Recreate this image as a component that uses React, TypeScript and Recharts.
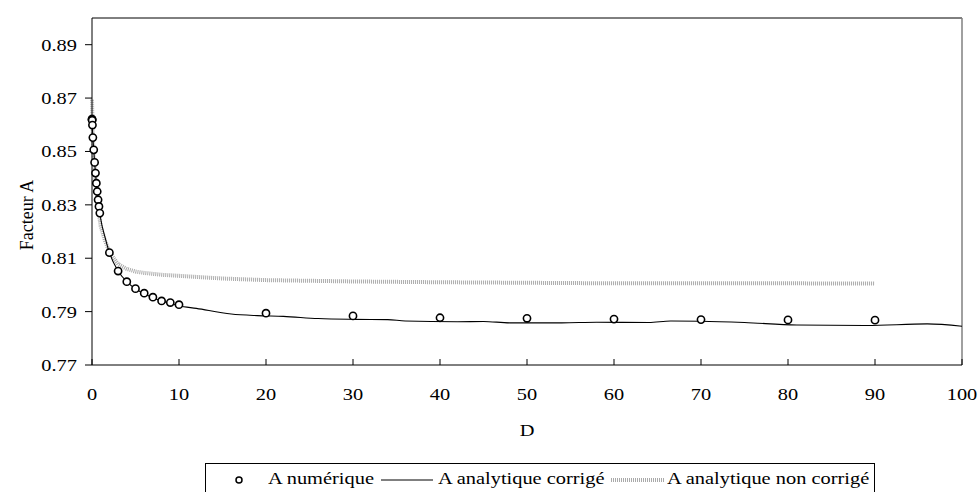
import React from 'react';
import { ComposedChart, Line, Scatter, XAxis, YAxis, ReferenceLine, Label } from 'recharts';

// A numérique (cercles)
const numD = [0, 0.01, 0.02, 0.05, 0.1, 0.2, 0.3, 0.4, 0.5, 0.6, 0.7, 0.8, 0.9, 2, 3, 4, 5, 6, 7, 8, 9, 10, 20, 30, 40, 50, 60, 70, 80, 90];
const numA = [0.8621, 0.862, 0.8617, 0.8599, 0.8552, 0.8506, 0.8459, 0.8419, 0.8381, 0.835, 0.8319, 0.8294, 0.8269, 0.8121, 0.8052, 0.8012, 0.7986, 0.7969, 0.7954, 0.794, 0.7934, 0.7926, 0.7894, 0.7884, 0.7877, 0.7875, 0.7872, 0.787, 0.7869, 0.7868];

// A analytique corrigé (trait noir)
const corD = [0, 0.1, 0.2, 0.3, 0.4, 0.5, 0.6, 0.7, 0.8, 0.9, 1, 1.5, 2, 3, 4, 5, 6, 7, 8, 9, 10, 12, 16, 19, 22, 26, 30, 34, 36, 42, 45, 48, 54, 58, 64, 66.5, 70, 75, 81, 89, 96, 100];
const corA = [0.862, 0.8552, 0.8506, 0.8459, 0.842, 0.8382, 0.835, 0.832, 0.8294, 0.827, 0.8248, 0.8178, 0.8121, 0.8052, 0.8012, 0.7985, 0.7967, 0.7952, 0.794, 0.7931, 0.7922, 0.7912, 0.7891, 0.7885, 0.7882, 0.7874, 0.7871, 0.787, 0.7865, 0.7862, 0.7863, 0.7858, 0.7858, 0.786, 0.7859, 0.7865, 0.7864, 0.7859, 0.785, 0.7848, 0.7854, 0.7845];

// A analytique non corrigé (trait gris)
const ncD = [0, 0.05, 0.1, 0.2, 0.4, 0.6, 0.8, 1, 1.5, 2, 2.5, 3, 4, 5, 6, 8, 10, 15, 20, 30, 40, 50, 60, 70, 80, 90];
const ncA = [0.8694, 0.862, 0.855, 0.848, 0.84, 0.833, 0.8265, 0.822, 0.8165, 0.8125, 0.81, 0.8078, 0.806, 0.805, 0.8045, 0.8038, 0.8034, 0.8024, 0.8018, 0.8013, 0.801, 0.8008, 0.8006, 0.8006, 0.8006, 0.8005];

const xTicks = [0, 10, 20, 30, 40, 50, 60, 70, 80, 90, 100];
const yTicks = [0.77, 0.79, 0.81, 0.83, 0.85, 0.87, 0.89];

const numData = numD.map((d, i) => ({ D: d, A: numA[i] }));
const corData = corD.map((d, i) => ({ D: d, A: corA[i] }));
const ncData = ncD.map((d, i) => ({ D: d, A: ncA[i] }));

const FONT = '"Liberation Serif", "Times New Roman", serif';
const SX = 1.2; // the original picture is stretched horizontally

const XTick = (props: any) => {
  const { x, y, payload } = props;
  return (
    <g>
      <line x1={x} x2={x} y1={y} y2={y - 6} stroke="#000" />
      <text
        transform={`translate(${x},${y + 35}) scale(${SX},1)`}
        textAnchor="middle"
        fontFamily={FONT}
        fontSize={17}
        fill="#000"
      >
        {payload.value}
      </text>
    </g>
  );
};

const YTick = (props: any) => {
  const { x, y, payload } = props;
  return (
    <text
      transform={`translate(${x},${y}) scale(${SX},1)`}
      textAnchor="end"
      dy="0.35em"
      fontFamily={FONT}
      fontSize={17}
      fill="#000"
    >
      {payload.value.toFixed(2)}
    </text>
  );
};

const Ring = (props: any) => (
  <circle cx={props.cx} cy={props.cy} r={3.6} fill="#fff" stroke="#000" strokeWidth={1.6} />
);

const legendText = (left: number): React.CSSProperties => ({
  position: 'absolute',
  left,
  top: 5,
  lineHeight: '20px',
  transform: `scaleX(${SX})`,
  transformOrigin: 'left center',
  whiteSpace: 'nowrap',
});

const Legend = () => (
  <div
    style={{
      position: 'absolute',
      left: 205,
      top: 463,
      width: 670,
      height: 40,
      border: '1px solid #000',
      boxSizing: 'border-box',
      background: '#fff',
      fontFamily: FONT,
      fontSize: 17,
      color: '#000',
    }}
  >
    <svg width={670} height={30} style={{ position: 'absolute', left: 0, top: 0 }}>
      <circle cx={33} cy={16} r={3} fill="#fff" stroke="#000" strokeWidth={1.5} />
      <line x1={175} x2={227} y1={16} y2={16} stroke="#000" strokeWidth={1} />
      <line x1={405} x2={458} y1={16} y2={16} stroke="#aaa" strokeWidth={4} strokeDasharray="1 1" />
    </svg>
    <span style={legendText(62)}>A numérique</span>
    <span style={legendText(232)}>A analytique corrigé</span>
    <span style={legendText(461)}>A analytique non corrigé</span>
  </div>
);

export default function App() {
  return (
    <div style={{ position: 'absolute', left: 0, top: 0, width: 980, height: 492, overflow: 'hidden', background: '#fff' }}>
      <ComposedChart width={980} height={492} margin={{ top: 18, right: 18, bottom: 0, left: 0 }}>
        <XAxis
          type="number"
          dataKey="D"
          domain={[0, 100]}
          ticks={xTicks}
          height={127}
          tickSize={0}
          tickMargin={0}
          tickLine={false}
          axisLine={{ stroke: '#000' }}
          tick={<XTick />}
          interval={0}
        >
          <Label
            content={(p: any) => {
              const vb = p.viewBox;
              return (
                <text
                  transform={`translate(${vb.x + vb.width / 2},${vb.y + 71}) scale(${SX},1)`}
                  textAnchor="middle"
                  fontFamily={FONT}
                  fontSize={17}
                  fill="#000"
                >
                  D
                </text>
              );
            }}
          />
        </XAxis>
        <YAxis
          type="number"
          dataKey="A"
          domain={[0.77, 0.9]}
          ticks={yTicks}
          width={92}
          tickSize={7}
          tickMargin={8}
          tickLine={{ stroke: '#000' }}
          axisLine={{ stroke: '#000' }}
          tick={<YTick />}
          interval={0}
        >
          <Label
            content={(p: any) => {
              const vb = p.viewBox;
              const cx = vb.x + 27;
              const cy = vb.y + 197;
              return (
                <text
                  transform={`translate(${cx},${cy}) rotate(-90)`}
                  textAnchor="middle"
                  dy="0.35em"
                  fontFamily={FONT}
                  fontSize={18}
                  fill="#000"
                >
                  Facteur A
                </text>
              );
            }}
          />
        </YAxis>
        <ReferenceLine y={0.9} stroke="#000" strokeWidth={1} />
        <ReferenceLine x={100} stroke="#808080" strokeWidth={1.5} />
        <Line
          data={ncData}
          dataKey="A"
          type="linear"
          stroke="#aaaaaa"
          strokeWidth={4}
          strokeDasharray="1 1"
          dot={false}
          activeDot={false}
          isAnimationActive={false}
        />
        <Line
          data={corData}
          dataKey="A"
          type="monotone"
          stroke="#000"
          strokeWidth={1.1}
          dot={false}
          activeDot={false}
          isAnimationActive={false}
        />
        <Scatter data={numData} dataKey="A" shape={<Ring />} isAnimationActive={false} />
      </ComposedChart>
      <Legend />
    </div>
  );
}
